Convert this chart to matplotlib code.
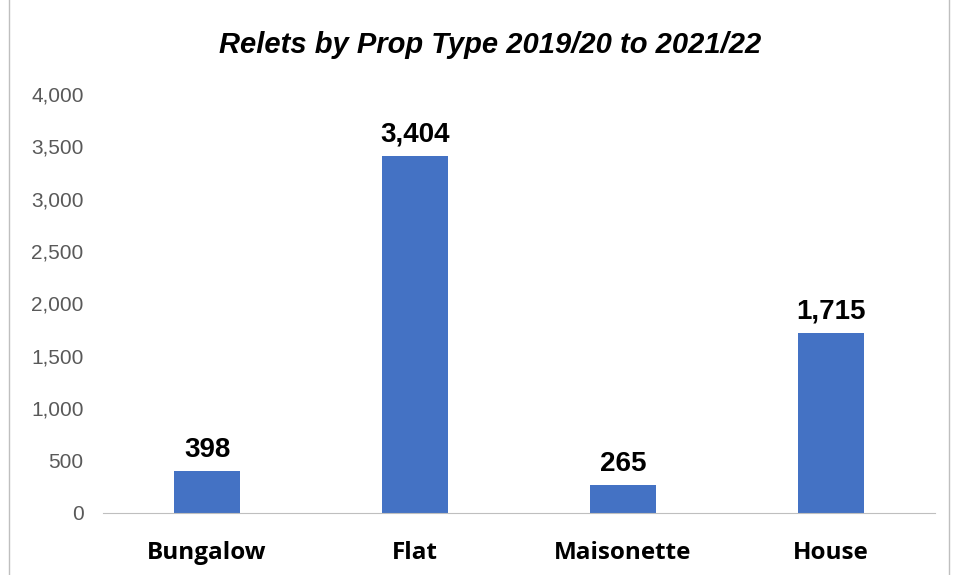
import matplotlib.pyplot as plt
from matplotlib.patches import Rectangle

categories = ["Bungalow", "Flat", "Maisonette", "House"]
relets = [398, 3404, 265, 1715]
yticks = [0, 500, 1000, 1500, 2000, 2500, 3000, 3500, 4000]

plt.rcParams["font.family"] = ["Liberation Sans", "DejaVu Sans"]

fig = plt.figure(figsize=(9.55, 5.75), dpi=100)
ax = fig.add_axes([0.108, 0.108, 0.871, 0.729])

x = range(len(categories))
ax.bar(x, relets, width=0.32, color="#4472C4")

for xi, v in zip(x, relets):
    ax.text(xi, v + 80, f"{v:,}", ha="center", va="bottom",
            fontsize=20, fontweight="bold", color="black")

ax.set_xlim(-0.5, len(categories) - 0.5)
ax.set_ylim(0, 4000)
ax.set_yticks(yticks)
ax.set_yticklabels([f"{t:,}" for t in yticks], color="#595959", fontsize=15)
ax.set_xticks(list(x))
ax.set_xticklabels(categories, fontsize=17.5, fontweight="bold",
                   family=["Open Sans", "DejaVu Sans"])
ax.tick_params(axis="y", length=0, pad=14)
ax.tick_params(axis="x", length=0, pad=20)

for s in ["top", "right", "left"]:
    ax.spines[s].set_visible(False)
ax.spines["bottom"].set_color("#BFBFBF")

fig.text(0.513, 0.922, "Relets by Prop Type 2019/20 to 2021/22", ha="center",
         va="center", fontsize=21, fontweight="bold", style="italic")

fig.patches.append(Rectangle((0.009, -0.01), 0.985, 1.05, transform=fig.transFigure,
                             fill=False, edgecolor="#BFBFBF", linewidth=1))

fig.savefig("out.png", dpi=100)
